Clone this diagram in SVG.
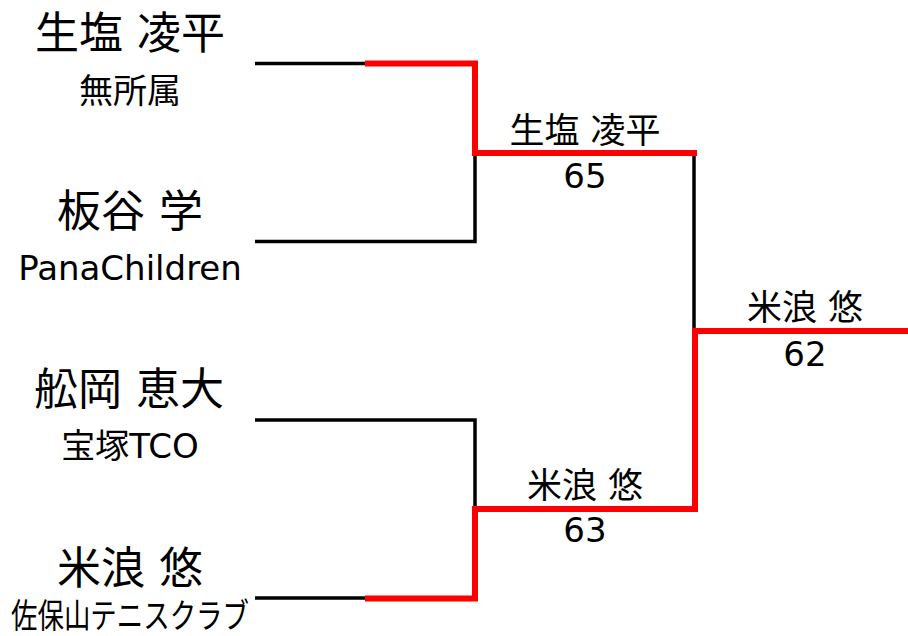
<svg xmlns="http://www.w3.org/2000/svg" width="908" height="636" viewBox="0 0 908 636">
<style>
text{font-family:"DejaVu Sans","Noto Sans CJK JP",sans-serif;fill:#000;text-anchor:middle}
.name{font-size:44px}
.club{font-size:34px}
.win{font-size:35px}
.score{font-size:34px}
.blk{fill:none;stroke:#000;stroke-width:3.5}
.red{fill:none;stroke:#ff0000;stroke-width:6;stroke-linejoin:miter}
</style>
<rect width="908" height="636" fill="#fff"/>
<g id="connectors">
<path class="blk" d="M255 63.5H366"/>
<path class="blk" d="M255 241.5H475V153"/>
<path class="blk" d="M694 153V331"/>
<path class="blk" d="M255 420H475V509"/>
<path class="blk" d="M255 598H366"/>
<path class="red" d="M365 63.5H475V153H697"/>
<path class="red" d="M908 331H695V509H475V598.5H365"/>
</g>
<g id="p1"><text class="name" x="130" y="49">生塩 凌平</text><text class="club" x="130" y="103">無所属</text></g>
<g id="p2"><text class="name" x="130" y="227">板谷 学</text><text class="club" x="130" y="280">PanaChildren</text></g>
<g id="p3"><text class="name" x="129" y="405">舩岡 恵大</text><text class="club" x="130" y="458">宝塚TCO</text></g>
<g id="p4"><text class="name" x="130" y="584">米浪 悠</text><text class="club" x="130" y="628" textLength="238" lengthAdjust="spacingAndGlyphs">佐保山テニスクラブ</text></g>
<g id="sf1"><text class="win" x="585" y="143">生塩 凌平</text><text class="score" x="585" y="188">65</text></g>
<g id="sf2"><text class="win" x="585" y="498">米浪 悠</text><text class="score" x="585" y="542">63</text></g>
<g id="final"><text class="win" x="805" y="320">米浪 悠</text><text class="score" x="805" y="366">62</text></g>
</svg>
